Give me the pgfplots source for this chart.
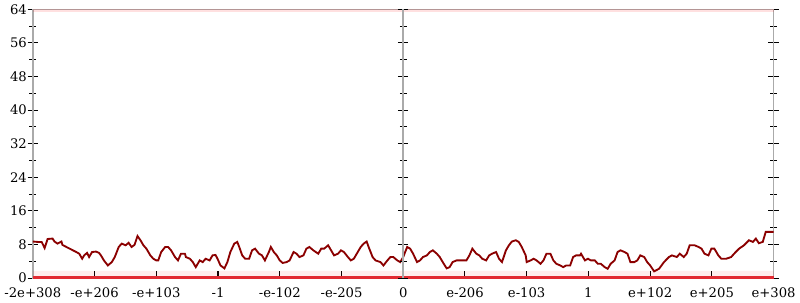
\documentclass[border=0pt]{standalone}
\usepackage{pgfplots}
\pgfplotsset{compat=1.18}
\usepackage{fontspec}
\setmainfont{DejaVu Serif}
\definecolor{lineRed}{HTML}{8B0000}
\definecolor{zeroRed}{HTML}{E22A32}
\definecolor{axGray}{HTML}{AAAAAA}
\begin{document}
\begin{tikzpicture}
\begin{axis}[
  scale only axis, width=562.5pt, height=204pt,
  xmin=28, xmax=778, ymin=0, ymax=64,
  axis line style={axGray, line width=1.2pt},
  xtick={28,90.5,153,215.5,278,340.5,403,465.5,528,590.5,653,715.5,778},
  xticklabels={-2e+308,-e+206,-e+103,-1,-e-102,-e-205,0,e-206,e-103,1,e+102,e+205,e+308},
  ytick={0,8,...,64}, minor ytick={4,12,...,60},
  xtick pos=bottom, ytick pos=both,
  yticklabel pos=left,
  tick style={black, line width=0.8pt},
  major tick length=8pt, minor tick length=5pt,
  y tick style={/pgfplots/tick align=center},
  x tick style={/pgfplots/tick align=inside, /pgfplots/major tick length=5pt},
  tick label style={font=\fontsize{10}{12}\selectfont},
  /pgf/number format/assume math mode=true,
  xticklabel style={yshift=-4pt},
  yticklabel style={xshift=-1pt},
  clip=false,
]
\addplot[draw=none, fill=red, fill opacity=0.07] coordinates {(28,0) (778,0) (778,1.7) (28,1.7)} \closedcycle;
\addplot[red, line width=2.5pt, opacity=0.12] coordinates {(28,63.7) (778,63.7)};
\addplot[zeroRed, line width=1.8pt] coordinates {(28,0.15) (778,0.15)};
\addplot[lineRed, line width=1.4pt] table {
x y
28 8.7
33 8.6
37 8.6
40 7.15
43 9.3
48 9.4
50 8.7
53 8.2
57 8.7
58 7.9
62 7.4
67 6.8
72 6.2
75 5.8
78 4.6
80 5.4
83 6.0
85 5.0
88 6.2
92 6.3
95 6.0
97 5.4
100 4.2
104 3.0
108 3.8
111 5.0
115 7.4
118 8.2
122 7.8
125 8.4
128 7.4
131 7.9
134 10.0
137 9.0
140 7.8
143 7.0
147 5.4
150 4.6
153 4.2
155 4.2
158 6.2
162 7.4
165 7.4
168 6.6
172 5.0
175 4.2
178 5.8
182 5.8
183 5.0
187 4.6
190 3.8
193 2.6
197 4.2
200 3.8
203 4.6
207 4.2
210 5.4
213 5.5
215 4.6
218 3.0
222 2.3
225 3.8
228 6.2
232 8.2
235 8.6
237 7.4
240 5.4
243 4.6
247 4.6
250 6.6
253 7.0
257 5.8
260 5.4
263 4.2
267 6.2
269 7.4
272 6.2
275 5.4
278 4.2
281 3.6
285 3.8
288 4.2
292 6.2
295 5.8
298 5.0
302 5.4
305 7.0
308 7.4
312 6.6
317 5.8
320 7.0
323 7.0
327 7.8
330 6.6
333 5.4
337 5.8
340 6.6
343 6.2
347 5.0
350 4.2
353 4.6
357 6.2
360 7.4
363 8.2
366 8.7
368 7.4
372 5.0
375 4.2
380 3.8
383 3.0
387 4.2
390 5.0
393 5.0
397 4.2
400 3.8
403 5.0
407 7.4
410 7.0
413 5.8
417 3.8
420 4.2
423 5.0
427 5.4
430 6.2
433 6.6
437 5.8
440 5.0
443 3.8
447 2.3
450 2.6
453 3.8
457 4.2
460 4.2
467 4.2
470 5.4
473 7.0
477 5.8
480 5.4
483 4.6
487 4.2
490 5.4
493 5.8
497 6.2
500 4.6
503 3.8
507 6.6
510 7.8
513 8.7
517 9.0
520 8.6
523 7.4
527 5.4
528 3.8
532 4.2
535 4.6
538 4.2
542 3.4
545 4.2
548 5.8
552 5.8
555 4.2
558 3.4
562 3.0
565 2.6
568 3.0
572 3.0
575 5.0
578 5.4
582 5.4
583 5.8
587 4.2
590 4.6
593 4.2
597 4.2
600 3.4
603 3.4
607 2.6
610 2.2
613 3.4
617 4.2
620 6.2
623 6.6
627 6.2
630 5.8
633 3.8
637 3.8
640 4.2
643 5.4
647 5.0
650 3.8
653 3.0
657 1.6
662 2.2
667 3.8
672 5.0
675 5.4
680 5.0
683 5.8
687 5.0
690 5.8
693 7.8
698 7.8
702 7.4
705 7.0
708 5.8
712 5.4
715 7.0
718 7.0
722 5.4
725 4.6
730 4.6
735 5.0
738 5.8
743 7.0
748 7.8
753 9.0
757 8.6
760 9.4
763 8.3
767 8.6
770 11.0
778 11.0
};
\end{axis}
\begin{axis}[
  scale only axis, width=562.5pt, height=204pt,
  xmin=-1, xmax=1, ymin=0, ymax=64,
  axis x line=none,
  axis y line=center,
  axis line style={axGray, line width=1.2pt, -},
  ytick={0,8,...,64}, minor ytick={4,12,...,60},
  yticklabels={},
  tick style={black, line width=0.8pt},
  major tick length=8pt, minor tick length=5pt,
  tick align=center,
]
\end{axis}
\end{tikzpicture}
\end{document}
